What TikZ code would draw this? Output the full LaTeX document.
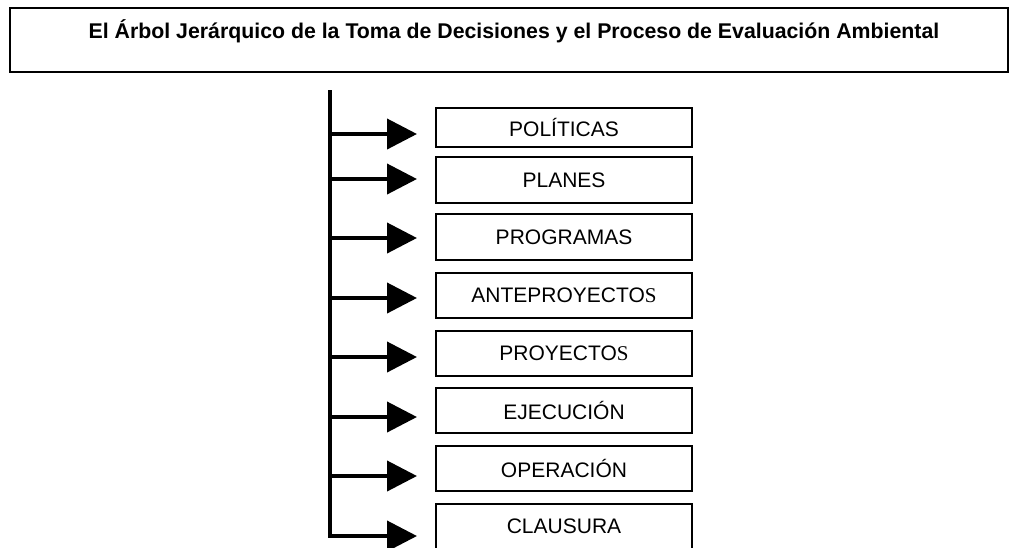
\documentclass[tikz,border=0pt]{standalone}
\usepackage{fontspec}
\setmainfont{Liberation Sans}
\newfontfamily\timesfont{Liberation Serif}
\usepackage{tikz}
\usetikzlibrary{arrows.meta}
\newcommand{\serS}{{\timesfont S}}
\tikzset{%
	stage/.style={draw,line width=2pt,minimum width=256pt,inner sep=0pt,
		font=\fontsize{21}{24}\selectfont,name=#1},
	branch/.style={line width=4pt,-{Triangle[length=30pt,width=30pt]},shorten >=18pt},
	trunk/.style={line width=4pt}
}

\begin{document}
\begin{tikzpicture}[x=1pt,y=-1pt]
				\clip (0,0) rectangle (1009,547);
				\node [draw,line width=2pt,minimum width=998pt,minimum height=64.5pt,inner sep=0pt] (frame) at (509,39.75) {};
				\node [font=\bfseries\fontsize{21.3}{24}\selectfont] (title) at (514,31) {El Árbol Jerárquico de la Toma de Decisiones y el Proceso de Evaluación Ambiental};
				\node [stage=pol, minimum height=39pt] at (564,127.5) {POLÍTICAS};
				\node [stage=pla, minimum height=46pt] at (564,180) {PLANES};
				\node [stage=pro, minimum height=46pt] at (564,237) {PROGRAMAS};
				\node [stage=ant, minimum height=45pt] at (564,295.5) {ANTEPROYECTO\serS};
				\node [stage=pry, minimum height=45pt] at (564,353.5) {PROYECTO\serS};
				\node [stage=eje, minimum height=45pt] at (564,410.5) {EJECUCIÓN};
				\node [stage=ope, minimum height=45pt] at (564,468.5) {OPERACIÓN};
				\node [stage=cla, minimum height=45pt] at (564,526.5) {CLAUSURA};
				% tronco vertical
				\coordinate (top) at (330,90);
				\coordinate (bot) at (330,538);
				\draw [trunk] (top) -- (bot);
				\coordinate (t1) at (330,134);
				\coordinate (t2) at (330,179);
				\coordinate (t3) at (330,238);
				\coordinate (t4) at (330,298);
				\coordinate (t5) at (330,357);
				\coordinate (t6) at (330,417);
				\coordinate (t7) at (330,476);
				\coordinate (t8) at (330,536);
				\draw [branch] (t1) -- (t1 -| pol.west);
				\draw [branch] (t2) -- (t2 -| pla.west);
				\draw [branch] (t3) -- (t3 -| pro.west);
				\draw [branch] (t4) -- (t4 -| ant.west);
				\draw [branch] (t5) -- (t5 -| pry.west);
				\draw [branch] (t6) -- (t6 -| eje.west);
				\draw [branch] (t7) -- (t7 -| ope.west);
				\draw [branch] (t8) -- (t8 -| cla.west);
			\end{tikzpicture}
\end{document}
